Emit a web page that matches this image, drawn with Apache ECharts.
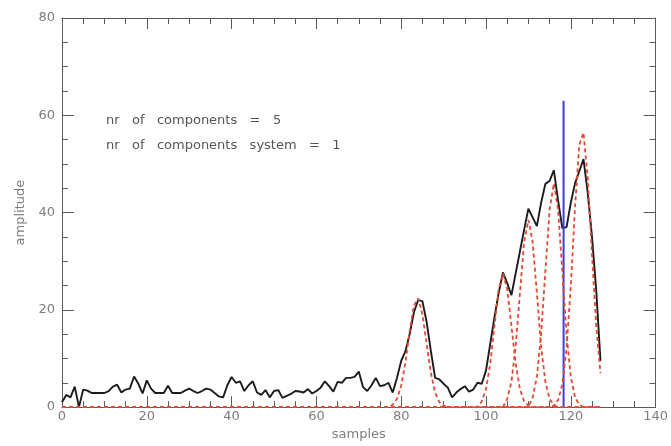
<!DOCTYPE html>
<html>
<head>
<meta charset="utf-8">
<script src="https://cdn.jsdelivr.net/npm/echarts@6/dist/echarts.min.js"></script>
<style>
  html, body { margin: 0; padding: 0; background: #fff; }
</style>
</head>
<body>
<div id="mainChart" style="width:671px;height:446px"></div>
<script>
  // measured signal, one value per sample (0..127)
  var amplitude = [
    1.0, 2.5, 2.0, 4.2, 0.0, 3.6, 3.4, 2.9, 2.9, 2.9,
    2.9, 3.3, 4.2, 4.6, 3.0, 3.6, 3.8, 6.3, 4.8, 2.8,
    5.5, 3.8, 2.9, 2.9, 2.9, 4.4, 2.9, 2.9, 2.9, 3.4,
    3.8, 3.3, 2.9, 3.3, 3.8, 3.6, 2.9, 2.2, 2.0, 4.5,
    6.2, 5.0, 5.3, 3.3, 4.5, 5.3, 3.0, 2.5, 3.5, 2.0,
    3.3, 3.5, 1.9, 2.3, 2.7, 3.3, 3.2, 3.0, 3.7, 2.8,
    3.3, 4.0, 5.3, 4.3, 3.2, 5.2, 5.0, 6.0, 6.0, 6.2,
    7.3, 4.1, 3.3, 4.5, 6.0, 4.3, 4.5, 5.0, 3.0, 6.0,
    9.5, 11.5, 15, 19.5, 22, 21.8, 17.5, 11.5, 6, 5.7,
    4.8, 4.0, 2.0, 3.0, 3.7, 4.3, 3.2, 3.6, 5.0, 4.8,
    7.5, 13, 18.5, 23.5, 27.7, 25.5, 23, 27.5, 32, 36.5,
    40.8, 39, 37.2, 42, 45.9, 46.5, 48.7, 42.5, 36.8, 37,
    42, 46, 48.5, 51, 44, 35, 24, 9.5
  ];

  // fitted components: first sample where they rise, then their values (0 elsewhere)
  var compStarts = [78, 99, 105, 111, 116];
  var comp1 = [0.5, 1.7, 4.4, 9.2, 15.6, 20.9, 22.4, 19.1, 13, 7, 3, 1, 0.3];
  var comp2 = [1.2, 3.7, 8.9, 16.7, 24.3, 27.5, 24.3, 16.7, 8.9, 3.7, 1.2, 0.3];
  var comp3 = [1.7, 5.2, 12.5, 23.4, 34, 38.5, 34, 23.4, 12.5, 5.2, 1.7, 0.4];
  var comp4 = [2.0, 6.2, 15, 27.9, 40.6, 46, 40.6, 27.9, 15, 6.2, 2.0, 0.5];
  var comp5 = [0.3, 1.4, 4.7, 12.1, 24.9, 41.1, 53.9, 56.4, 47.1, 31.3, 16.6, 7.0];

  // system position marker
  var systemX = 118.3;
  var systemTop = 63;

  var xTicks = { min: 0, max: 140, step: 20 };
  var yTicks = { min: 0, max: 80, step: 20 };

  var infoLines = ['nr   of   components   =   5', 'nr   of   components   system   =   1'];

  var mainChart = echarts.init(document.getElementById('mainChart'));

  var signalData = amplitude.map(function (v, i) { return [i, v]; });

  function compData(start, vals) {
    var out = [];
    for (var i = 0; i < amplitude.length; i++) {
      var k = i - start;
      out.push([i, (k >= 0 && k < vals.length) ? vals[k] : 0]);
    }
    return out;
  }

  var comps = [comp1, comp2, comp3, comp4, comp5];
  var compSeries = comps.map(function (vals, n) {
    return {
      name: 'component ' + (n + 1),
      type: 'line',
      showSymbol: false,
      z: 4,
      data: compData(compStarts[n], vals),
      lineStyle: { color: '#e24a33', width: 1.8, type: [4, 3] }
    };
  });

  var labelStyle = { color: '#7d7d7d', fontSize: 13, fontFamily: 'DejaVu Sans' };
  var lineCol = '#5a5a5a';

  function xAx(pos, showLabel) {
    return {
      type: 'value',
      position: pos,
      min: xTicks.min, max: xTicks.max, interval: xTicks.step,
      name: showLabel ? 'samples' : '',
      nameLocation: 'middle',
      nameGap: 18,
      nameTextStyle: { color: '#7d7d7d', fontSize: 13, fontFamily: 'DejaVu Sans' },
      axisLine: { show: true, onZero: false, lineStyle: { color: lineCol, width: 1 } },
      axisTick: { show: true, inside: true, length: 11, lineStyle: { color: lineCol } },
      minorTick: { show: true, splitNumber: 4, length: 6, lineStyle: { color: lineCol } },
      axisLabel: Object.assign({ show: showLabel, margin: 3 }, labelStyle),
      splitLine: { show: false }
    };
  }

  function yAx(pos, showLabel) {
    return {
      type: 'value',
      position: pos,
      min: yTicks.min, max: yTicks.max, interval: yTicks.step,
      name: showLabel ? 'amplitude' : '',
      nameLocation: 'middle',
      nameGap: 34,
      nameTextStyle: { color: '#7d7d7d', fontSize: 13, fontFamily: 'DejaVu Sans' },
      axisLine: { show: true, onZero: false, lineStyle: { color: lineCol, width: 1 } },
      axisTick: { show: true, inside: true, length: 12, lineStyle: { color: lineCol } },
      minorTick: { show: true, splitNumber: 4, length: 6, lineStyle: { color: lineCol } },
      axisLabel: Object.assign({ show: showLabel, margin: 7 }, labelStyle),
      splitLine: { show: false }
    };
  }

  var options = {
    animation: false,
    backgroundColor: '#fff',
    grid: { left: 62, right: 10, top: 18, bottom: 32 },
    xAxis: [xAx('bottom', true), xAx('top', false)],
    yAxis: [yAx('left', true), yAx('right', false)],
    graphic: infoLines.map(function (t, i) {
      return {
        type: 'text',
        left: 106,
        top: 114 + i * 25,
        style: { text: t, fill: '#555', fontSize: 13, fontFamily: 'DejaVu Sans' }
      };
    }),
    series: [{
      name: 'signal',
      type: 'line',
      showSymbol: false,
      z: 3,
      data: signalData,
      lineStyle: { color: '#1c1c1c', width: 1.9 }
    }, {
      name: 'system',
      type: 'line',
      showSymbol: false,
      z: 3,
      data: [[systemX, 0], [systemX, systemTop]],
      lineStyle: { color: '#3c3ce0', width: 2 }
    }].concat(compSeries)
  };

  mainChart.setOption(options);
</script>
</body>
</html>
